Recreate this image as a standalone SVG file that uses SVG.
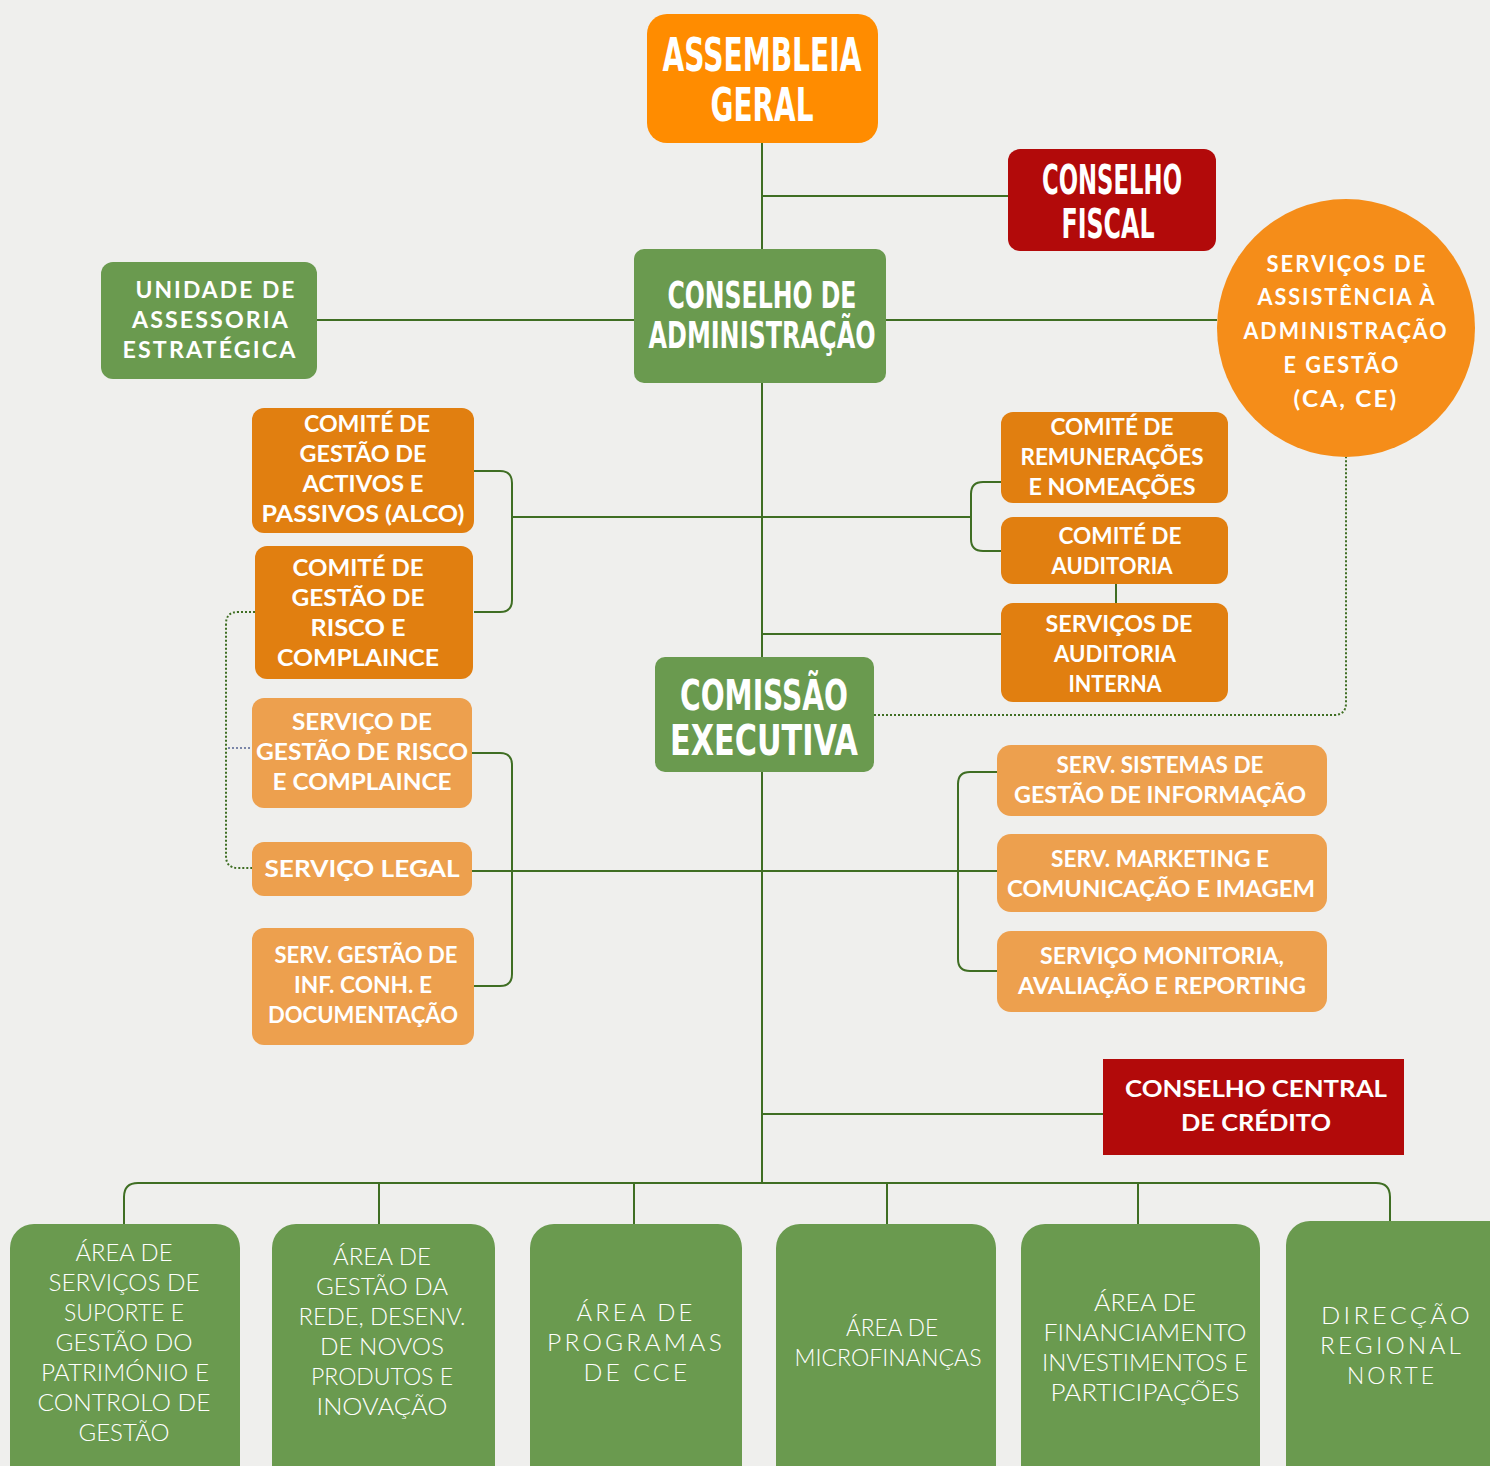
<svg xmlns="http://www.w3.org/2000/svg" width="1490" height="1466" viewBox="0 0 1490 1466">
<defs>
<style>
.bg{fill:#efefed}
.g{fill:#6a9a4f}
.o1{fill:#ff8c00}
.o2{fill:#e17f10}
.o3{fill:#eda04e}
.oc{fill:#f58d19}
.r{fill:#b20a0a}
.ln{fill:none;stroke:#3f6e23;stroke-width:2}
.dot{fill:none;stroke:#3f6e23;stroke-width:2;stroke-dasharray:2 2}
.dotb{fill:none;stroke:#7b86a8;stroke-width:2;stroke-dasharray:2 2}
.tt{font-family:"Liberation Sans Narrow","DejaVu Sans Condensed","DejaVu Sans",sans-serif;font-weight:700;fill:#fff;text-anchor:middle}
.tx{font-family:Lato,"Open Sans","DejaVu Sans",sans-serif;font-weight:700;font-size:22px;fill:#fff;text-anchor:middle}
.ts{font-family:Lato,"Open Sans","DejaVu Sans",sans-serif;font-weight:700;font-size:22px;letter-spacing:2px;fill:#fff;text-anchor:middle}
.tl{font-family:Lato,"Open Sans","DejaVu Sans",sans-serif;font-weight:300;font-size:23px;fill:#fff;text-anchor:middle}
.tw{font-family:Lato,"Open Sans","DejaVu Sans",sans-serif;font-weight:300;font-size:23px;letter-spacing:3px;fill:#fff;text-anchor:middle}
</style>
</defs>
<rect class="bg" x="0" y="0" width="1490" height="1466"/>

<g id="connectors">
<path class="ln" d="M762,143 V1183"/>
<path class="ln" d="M762,196 H1008"/>
<path class="ln" d="M317,320 H634"/>
<path class="ln" d="M886,320 H1217"/>
<path class="ln" d="M474,471 H500 Q512,471 512,483 V600 Q512,612 500,612 H474"/>
<path class="ln" d="M512,517 H762"/>
<path class="ln" d="M762,517 H971"/>
<path class="ln" d="M1001,482 H983 Q971,482 971,494 V539 Q971,551 983,551 H1001"/>
<path class="ln" d="M1116,584 V603"/>
<path class="ln" d="M762,634 H1001"/>
<path class="dot" d="M874,715 H1334 Q1346,715 1346,703 V452"/>
<path class="ln" d="M472,753 H500 Q512,753 512,765 V974 Q512,986 500,986 H474"/>
<path class="ln" d="M472,871 H997"/>
<path class="ln" d="M997,772 H970 Q958,772 958,784 V959 Q958,971 970,971 H997"/>
<path class="dot" d="M255,612 H238 Q226,612 226,624 V856 Q226,868 238,868 H252"/>
<path class="dotb" d="M228,748 H252"/>
<path class="ln" d="M762,1114 H1103"/>
<path class="ln" d="M124,1224 V1197 Q124,1183 138,1183 H1376 Q1390,1183 1390,1197 V1221"/>
<path class="ln" d="M379,1183 V1224"/>
<path class="ln" d="M634,1183 V1224"/>
<path class="ln" d="M887,1183 V1224"/>
<path class="ln" d="M1138,1183 V1224"/>
</g>

<g id="assembleia-geral">
<rect class="o1" x="647" y="14" width="231" height="129" rx="20"/>
<text class="tt" font-size="47" x="762" y="71" textLength="199" lengthAdjust="spacingAndGlyphs">ASSEMBLEIA</text>
<text class="tt" font-size="47" x="762" y="121" textLength="103" lengthAdjust="spacingAndGlyphs">GERAL</text>
</g>

<g id="conselho-fiscal">
<rect class="r" x="1008" y="149" width="208" height="102" rx="12"/>
<text class="tt" font-size="41" x="1112" y="194" textLength="140" lengthAdjust="spacingAndGlyphs">CONSELHO</text>
<text class="tt" font-size="41" x="1108" y="238" textLength="93" lengthAdjust="spacingAndGlyphs">FISCAL</text>
</g>

<g id="conselho-administracao">
<rect class="g" x="634" y="249" width="252" height="134" rx="10"/>
<text class="tt" font-size="38" x="762" y="308" textLength="189" lengthAdjust="spacingAndGlyphs">CONSELHO DE</text>
<text class="tt" font-size="38" x="762" y="348" textLength="227" lengthAdjust="spacingAndGlyphs">ADMINISTRAÇÃO</text>
</g>

<g id="unidade-assessoria">
<rect class="g" x="101" y="262" width="216" height="117" rx="12"/>
<text class="ts" x="216" y="298" textLength="161" lengthAdjust="spacingAndGlyphs">UNIDADE DE</text>
<text class="ts" x="211" y="328" textLength="158" lengthAdjust="spacingAndGlyphs">ASSESSORIA</text>
<text class="ts" x="210" y="358" textLength="175" lengthAdjust="spacingAndGlyphs">ESTRATÉGICA</text>
</g>

<g id="servicos-assistencia">
<circle class="oc" cx="1346" cy="328" r="129"/>
<text class="ts" x="1347" y="272" textLength="161" lengthAdjust="spacingAndGlyphs">SERVIÇOS DE</text>
<text class="ts" x="1347" y="305" textLength="179" lengthAdjust="spacingAndGlyphs">ASSISTÊNCIA À</text>
<text class="ts" x="1346" y="339" textLength="205" lengthAdjust="spacingAndGlyphs">ADMINISTRAÇÃO</text>
<text class="ts" x="1342" y="373" textLength="117" lengthAdjust="spacingAndGlyphs">E GESTÃO</text>
<text class="ts" x="1346" y="407" textLength="105" lengthAdjust="spacingAndGlyphs">(CA, CE)</text>
</g>

<g id="comite-alco">
<rect class="o2" x="252" y="408" width="222" height="125" rx="12"/>
<text class="tx" x="367" y="432" textLength="126" lengthAdjust="spacingAndGlyphs">COMITÉ DE</text>
<text class="tx" x="363" y="462" textLength="127" lengthAdjust="spacingAndGlyphs">GESTÃO DE</text>
<text class="tx" x="363" y="492" textLength="121" lengthAdjust="spacingAndGlyphs">ACTIVOS E</text>
<text class="tx" x="363" y="522" textLength="203" lengthAdjust="spacingAndGlyphs">PASSIVOS (ALCO)</text>
</g>

<g id="comite-risco">
<rect class="o2" x="255" y="546" width="218" height="133" rx="12"/>
<text class="tx" x="358" y="576" textLength="131" lengthAdjust="spacingAndGlyphs">COMITÉ DE</text>
<text class="tx" x="358" y="606" textLength="133" lengthAdjust="spacingAndGlyphs">GESTÃO DE</text>
<text class="tx" x="358" y="636" textLength="95" lengthAdjust="spacingAndGlyphs">RISCO E</text>
<text class="tx" x="358" y="666" textLength="162" lengthAdjust="spacingAndGlyphs">COMPLAINCE</text>
</g>

<g id="servico-gestao-risco">
<rect class="o3" x="252" y="698" width="220" height="110" rx="12"/>
<text class="tx" x="362" y="730" textLength="140" lengthAdjust="spacingAndGlyphs">SERVIÇO DE</text>
<text class="tx" x="362" y="760" textLength="212" lengthAdjust="spacingAndGlyphs">GESTÃO DE RISCO</text>
<text class="tx" x="362" y="790" textLength="179" lengthAdjust="spacingAndGlyphs">E COMPLAINCE</text>
</g>

<g id="servico-legal">
<rect class="o3" x="252" y="842" width="220" height="54" rx="12"/>
<text class="tx" x="362" y="877" textLength="195" lengthAdjust="spacingAndGlyphs">SERVIÇO LEGAL</text>
</g>

<g id="serv-gestao-inf">
<rect class="o3" x="252" y="928" width="222" height="117" rx="12"/>
<text class="tx" x="366" y="963" textLength="183" lengthAdjust="spacingAndGlyphs">SERV. GESTÃO DE</text>
<text class="tx" x="363" y="993" textLength="138" lengthAdjust="spacingAndGlyphs">INF. CONH. E</text>
<text class="tx" x="363" y="1023" textLength="190" lengthAdjust="spacingAndGlyphs">DOCUMENTAÇÃO</text>
</g>

<g id="comite-remuneracoes">
<rect class="o2" x="1001" y="412" width="227" height="91" rx="12"/>
<text class="tx" x="1112" y="435" textLength="123" lengthAdjust="spacingAndGlyphs">COMITÉ DE</text>
<text class="tx" x="1112" y="465" textLength="183" lengthAdjust="spacingAndGlyphs">REMUNERAÇÕES</text>
<text class="tx" x="1112" y="495" textLength="167" lengthAdjust="spacingAndGlyphs">E NOMEAÇÕES</text>
</g>

<g id="comite-auditoria">
<rect class="o2" x="1001" y="517" width="227" height="67" rx="12"/>
<text class="tx" x="1120" y="544" textLength="123" lengthAdjust="spacingAndGlyphs">COMITÉ DE</text>
<text class="tx" x="1112" y="574" textLength="121" lengthAdjust="spacingAndGlyphs">AUDITORIA</text>
</g>

<g id="servicos-auditoria-interna">
<rect class="o2" x="1001" y="603" width="227" height="99" rx="12"/>
<text class="tx" x="1119" y="632" textLength="147" lengthAdjust="spacingAndGlyphs">SERVIÇOS DE</text>
<text class="tx" x="1115" y="662" textLength="122" lengthAdjust="spacingAndGlyphs">AUDITORIA</text>
<text class="tx" x="1115" y="692" textLength="93" lengthAdjust="spacingAndGlyphs">INTERNA</text>
</g>

<g id="comissao-executiva">
<rect class="g" x="655" y="657" width="219" height="115" rx="10"/>
<text class="tt" font-size="42" x="764" y="710" textLength="168" lengthAdjust="spacingAndGlyphs">COMISSÃO</text>
<text class="tt" font-size="42" x="764" y="755" textLength="188" lengthAdjust="spacingAndGlyphs">EXECUTIVA</text>
</g>

<g id="serv-sistemas">
<rect class="o3" x="997" y="745" width="330" height="71" rx="14"/>
<text class="tx" x="1160" y="773" textLength="207" lengthAdjust="spacingAndGlyphs">SERV. SISTEMAS DE</text>
<text class="tx" x="1160" y="803" textLength="292" lengthAdjust="spacingAndGlyphs">GESTÃO DE INFORMAÇÃO</text>
</g>

<g id="serv-marketing">
<rect class="o3" x="997" y="834" width="330" height="78" rx="14"/>
<text class="tx" x="1160" y="867" textLength="218" lengthAdjust="spacingAndGlyphs">SERV. MARKETING E</text>
<text class="tx" x="1161" y="897" textLength="308" lengthAdjust="spacingAndGlyphs">COMUNICAÇÃO E IMAGEM</text>
</g>

<g id="servico-monitoria">
<rect class="o3" x="997" y="931" width="330" height="81" rx="14"/>
<text class="tx" x="1162" y="964" textLength="244" lengthAdjust="spacingAndGlyphs">SERVIÇO MONITORIA,</text>
<text class="tx" x="1162" y="994" textLength="288" lengthAdjust="spacingAndGlyphs">AVALIAÇÃO E REPORTING</text>
</g>

<g id="conselho-central-credito">
<rect class="r" x="1103" y="1059" width="301" height="96"/>
<text class="tx" font-size="23" x="1256" y="1097" textLength="262" lengthAdjust="spacingAndGlyphs">CONSELHO CENTRAL</text>
<text class="tx" font-size="23" x="1256" y="1131" textLength="150" lengthAdjust="spacingAndGlyphs">DE CRÉDITO</text>
</g>

<g id="area-suporte">
<rect class="g" x="10" y="1224" width="230" height="280" rx="24"/>
<text class="tl" x="124" y="1261" textLength="97" lengthAdjust="spacingAndGlyphs">ÁREA DE</text>
<text class="tl" x="124" y="1291" textLength="151" lengthAdjust="spacingAndGlyphs">SERVIÇOS DE</text>
<text class="tl" x="124" y="1321" textLength="120" lengthAdjust="spacingAndGlyphs">SUPORTE E</text>
<text class="tl" x="124" y="1351" textLength="137" lengthAdjust="spacingAndGlyphs">GESTÃO DO</text>
<text class="tl" x="125" y="1381" textLength="168" lengthAdjust="spacingAndGlyphs">PATRIMÓNIO E</text>
<text class="tl" x="124" y="1411" textLength="173" lengthAdjust="spacingAndGlyphs">CONTROLO DE</text>
<text class="tl" x="124" y="1441" textLength="91" lengthAdjust="spacingAndGlyphs">GESTÃO</text>
</g>

<g id="area-gestao-rede">
<rect class="g" x="272" y="1224" width="223" height="280" rx="24"/>
<text class="tl" x="382" y="1265" textLength="98" lengthAdjust="spacingAndGlyphs">ÁREA DE</text>
<text class="tl" x="382" y="1295" textLength="132" lengthAdjust="spacingAndGlyphs">GESTÃO DA</text>
<text class="tl" x="382" y="1325" textLength="167" lengthAdjust="spacingAndGlyphs">REDE, DESENV.</text>
<text class="tl" x="382" y="1355" textLength="124" lengthAdjust="spacingAndGlyphs">DE NOVOS</text>
<text class="tl" x="382" y="1385" textLength="142" lengthAdjust="spacingAndGlyphs">PRODUTOS E</text>
<text class="tl" x="382" y="1415" textLength="131" lengthAdjust="spacingAndGlyphs">INOVAÇÃO</text>
</g>

<g id="area-programas-cce">
<rect class="g" x="530" y="1224" width="212" height="280" rx="24"/>
<text class="tw" x="636" y="1321" textLength="119" lengthAdjust="spacingAndGlyphs">ÁREA DE</text>
<text class="tw" x="636" y="1351" textLength="178" lengthAdjust="spacingAndGlyphs">PROGRAMAS</text>
<text class="tw" x="637" y="1381" textLength="107" lengthAdjust="spacingAndGlyphs">DE CCE</text>
</g>

<g id="area-microfinancas">
<rect class="g" x="776" y="1224" width="220" height="280" rx="24"/>
<text class="tl" x="892" y="1336" textLength="92" lengthAdjust="spacingAndGlyphs">ÁREA DE</text>
<text class="tl" x="888" y="1366" textLength="187" lengthAdjust="spacingAndGlyphs">MICROFINANÇAS</text>
</g>

<g id="area-financiamento">
<rect class="g" x="1021" y="1224" width="239" height="280" rx="24"/>
<text class="tl" x="1145" y="1311" textLength="102" lengthAdjust="spacingAndGlyphs">ÁREA DE</text>
<text class="tl" x="1145" y="1341" textLength="203" lengthAdjust="spacingAndGlyphs">FINANCIAMENTO</text>
<text class="tl" x="1145" y="1371" textLength="206" lengthAdjust="spacingAndGlyphs">INVESTIMENTOS E</text>
<text class="tl" x="1145" y="1401" textLength="189" lengthAdjust="spacingAndGlyphs">PARTICIPAÇÕES</text>
</g>

<g id="direccao-regional-norte">
<rect class="g" x="1286" y="1221" width="230" height="283" rx="24"/>
<text class="tw" x="1397" y="1324" textLength="152" lengthAdjust="spacingAndGlyphs">DIRECÇÃO</text>
<text class="tw" x="1392" y="1354" textLength="144" lengthAdjust="spacingAndGlyphs">REGIONAL</text>
<text class="tw" x="1392" y="1384" textLength="90" lengthAdjust="spacingAndGlyphs">NORTE</text>
</g>
</svg>
